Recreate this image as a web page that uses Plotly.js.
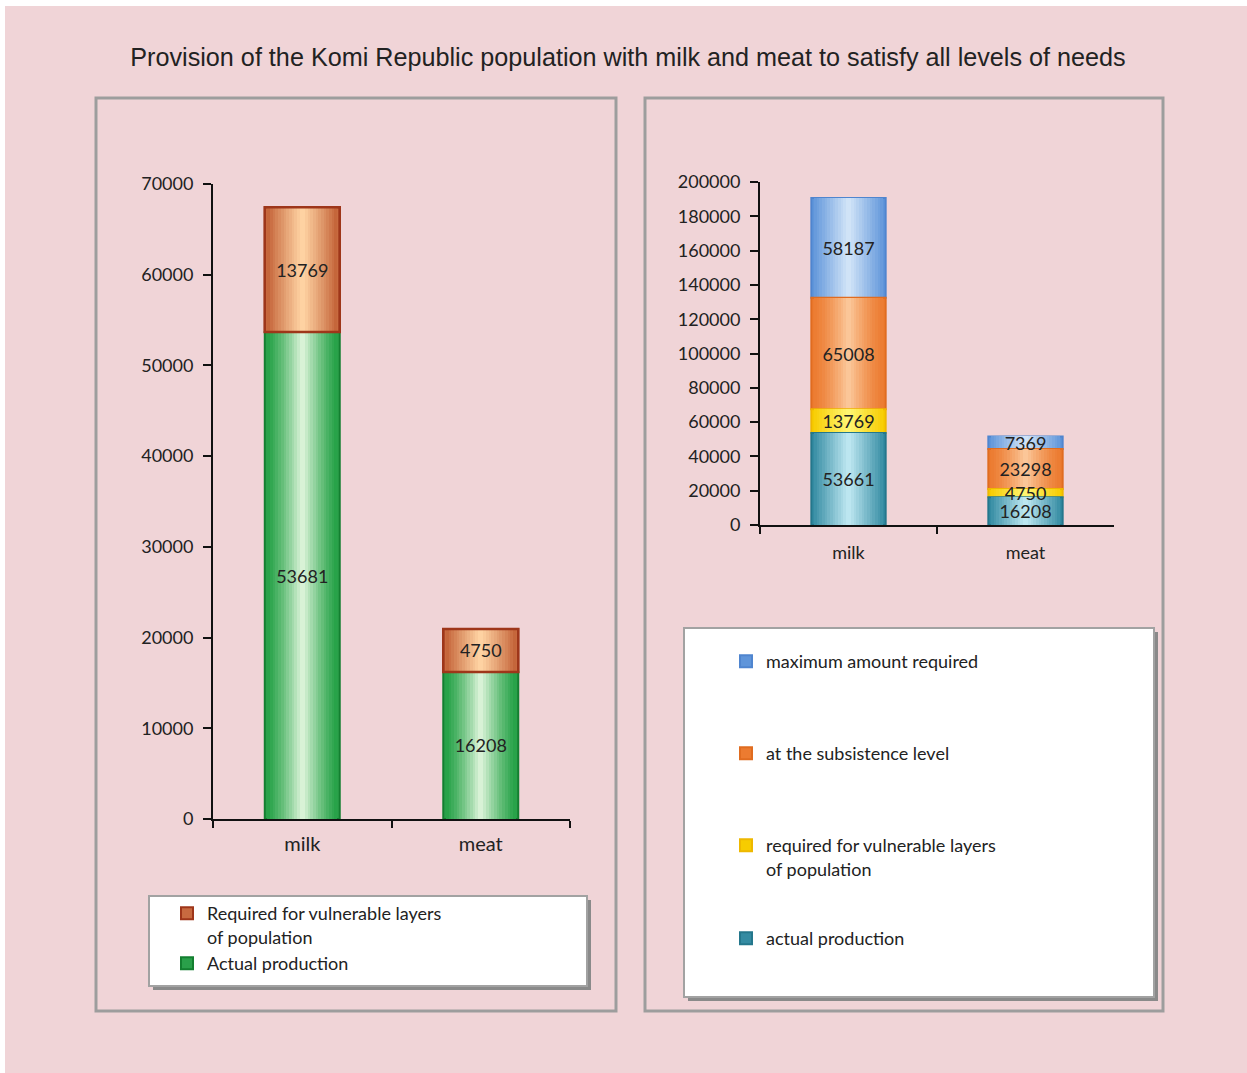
<!DOCTYPE html>
<html><head><meta charset="utf-8">
<script src="https://cdn.plot.ly/plotly-3.0.1.min.js"></script>
<style>html,body{margin:0;padding:0;background:#fff;}</style>
</head><body><div id="chart" style="width:1247px;height:1073px;"></div>
<script>
// ---------- data ----------
const categories = ['milk', 'meat'];
// left chart
const leftActual = [53681, 16208];
const leftVulnerable = [13769, 4750];
const leftNames = ['Required for vulnerable layers<br>of population', 'Actual production'];
const leftTickVals = [0, 10000, 20000, 30000, 40000, 50000, 60000, 70000];
// right chart
const rightActual = [53661, 16208];
const rightVulnerable = [13769, 4750];
const rightSubsistence = [65008, 23298];
const rightMaximum = [58187, 7369];
const rightNames = ['maximum amount required', 'at the subsistence level',
  'required for vulnerable layers<br>of population', 'actual production'];
const rightTickVals = [0, 20000, 40000, 60000, 80000, 100000, 120000, 140000, 160000, 180000, 200000];
const titleText = 'Provision of the Komi Republic population with milk and meat to satisfy all levels of needs';

// ---------- helpers ----------
const W = 1247, H = 1073;
const px = v => v / W;
const py = v => 1 - v / H;
function hex2rgb(h) { h = h.replace('#', ''); return [0, 2, 4].map(i => parseInt(h.substr(i, 2), 16)); }
function mix(a, b, t) { const A = hex2rgb(a), B = hex2rgb(b); return 'rgb(' + A.map((v, i) => Math.round(v + (B[i] - v) * t)).join(',') + ')'; }
function addSum(a, b) { return a.map((v, i) => v + b[i]); }

const FONT = 'Lato, "Open Sans", sans-serif';
const traces = [];
const labelTraces = [];
function gradientBars(o) {
  const N = 14;
  for (let i = 0; i < N; i++) {
    const f = 1 - i / N;
    const t = Math.pow(i / (N - 1), o.pow || 1.3);
    traces.push({
      type: 'bar', x: categories, y: o.y, base: o.base,
      xaxis: o.xaxis, yaxis: o.yaxis,
      width: o.width * f,
      marker: { color: i === 0 ? o.legendColor : mix(o.mid, o.center, t),
        line: { width: i === 0 ? 2 : 0, color: o.edge } },
      hoverinfo: 'skip',
      showlegend: i === 0, name: o.name, legend: o.legend,
    });
  }
  // value labels (and optional segment outline) drawn on top of every bar
  labelTraces.push({
    type: 'bar', x: categories, y: o.y, base: o.base,
    xaxis: o.xaxis, yaxis: o.yaxis, width: o.width,
    marker: { color: 'rgba(0,0,0,0)', line: { width: o.outline ? 2.5 : 0, color: o.edge } },
    text: o.y.map(String), textposition: 'inside', insidetextanchor: 'middle',
    textangle: 0, constraintext: 'none',
    textfont: { family: FONT, size: 18, color: '#222' },
    hoverinfo: 'skip', showlegend: false,
  });
}

// left chart
gradientBars({ y: leftVulnerable, base: leftActual, xaxis: 'x', yaxis: 'y', width: 0.42, outline: true,
  edge: '#9e361a', mid: '#bf5a30', center: '#fed2a2', legendColor: '#c86a40', name: leftNames[0], legend: 'legend', pow: 0.9 });
gradientBars({ y: leftActual, base: leftActual.map(() => 0), xaxis: 'x', yaxis: 'y', width: 0.42,
  edge: '#137f30', mid: '#22a044', center: '#d8f2d6', legendColor: '#2aa04a', name: leftNames[1], legend: 'legend2', pow: 1.3 });
// right chart
gradientBars({ y: rightMaximum, base: addSum(addSum(rightActual, rightVulnerable), rightSubsistence), xaxis: 'x2', yaxis: 'y2', width: 0.42,
  edge: '#4f85cf', mid: '#5f95da', center: '#d0e3f7', legendColor: '#5f95da', name: rightNames[0], legend: 'legend3', pow: 1.0 });
gradientBars({ y: rightSubsistence, base: addSum(rightActual, rightVulnerable), xaxis: 'x2', yaxis: 'y2', width: 0.42,
  edge: '#e06c20', mid: '#ec7b30', center: '#fbc698', legendColor: '#ec7b30', name: rightNames[1], legend: 'legend4', pow: 1.4 });
gradientBars({ y: rightVulnerable, base: rightActual, xaxis: 'x2', yaxis: 'y2', width: 0.42,
  edge: '#eeb800', mid: '#f7cc00', center: '#fff470', legendColor: '#f7cc00', name: rightNames[2], legend: 'legend5', pow: 1.0 });
gradientBars({ y: rightActual, base: rightActual.map(() => 0), xaxis: 'x2', yaxis: 'y2', width: 0.42,
  edge: '#24778c', mid: '#348ba2', center: '#bce6f0', legendColor: '#348ba2', name: rightNames[3], legend: 'legend6', pow: 1.0 });

function yAxis(domain, range, vals) {
  return { domain: domain, range: range, tickvals: vals, ticktext: vals.map(String),
    showline: true, linecolor: '#111', linewidth: 2, ticks: 'outside', ticklen: 8, tickwidth: 2, tickcolor: '#111',
    showgrid: false, zeroline: false, tickfont: { family: FONT, size: 18, color: '#222' }, ticklabelstandoff: 6, fixedrange: true };
}
function xAxis(domain, size, standoff) {
  return { domain: domain, type: 'category', range: [-0.5, 1.5],
    showline: true, linecolor: '#111', linewidth: 2, ticks: 'outside', tickson: 'boundaries', ticklen: 7, tickwidth: 2, tickcolor: '#111',
    showgrid: false, zeroline: false, tickfont: { family: FONT, size: size, color: '#222' }, ticklabelstandoff: standoff, fixedrange: true };
}
function legendCfg(x, y) {
  return { x: px(x), y: py(y), xanchor: 'left', yanchor: 'top', xref: 'paper', yref: 'paper',
    bgcolor: 'rgba(0,0,0,0)', borderwidth: 0, valign: 'top',
    font: { family: FONT, size: 18, color: '#222' }, itemclick: false, itemdoubleclick: false };
}
function rect(x0, y0, x1, y1, fill, lineColor, lw) {
  return { type: 'rect', xref: 'paper', yref: 'paper', layer: 'below',
    x0: px(x0), x1: px(x1), y0: py(y1), y1: py(y0),
    fillcolor: fill, line: { color: lineColor || 'rgba(0,0,0,0)', width: lw || 0 } };
}

const layout = {
  width: W, height: H, margin: { l: 0, r: 0, t: 0, b: 0 },
  paper_bgcolor: '#ffffff', plot_bgcolor: 'rgba(0,0,0,0)',
  barmode: 'overlay', bargap: 0,
  title: { text: titleText, x: px(628), xanchor: 'center', y: py(57), yanchor: 'middle', yref: 'paper', xref: 'paper',
    font: { family: '"Liberation Sans", Arial, sans-serif', size: 25.2, color: '#222' } },
  xaxis: Object.assign(xAxis([px(213), px(570)], 20, 6), { anchor: 'y' }),
  yaxis: Object.assign(yAxis([py(819), py(184)], [0, 70000], leftTickVals), { anchor: 'x' }),
  xaxis2: Object.assign(xAxis([px(760), px(1114)], 18, 10), { anchor: 'y2' }),
  yaxis2: Object.assign(yAxis([py(525), py(182)], [0, 200000], rightTickVals), { anchor: 'x2' }),
  legend: legendCfg(167, 895),
  legend2: legendCfg(167, 945),
  legend3: legendCfg(726, 643),
  legend4: legendCfg(726, 735),
  legend5: legendCfg(726, 827),
  legend6: legendCfg(726, 920),
  shapes: [
    rect(5, 6, 1247, 1073, '#f0d4d7'),
    rect(96, 98, 616, 1011, 'rgba(0,0,0,0)', '#9d9d9d', 3),
    rect(645, 98, 1163, 1011, 'rgba(0,0,0,0)', '#9d9d9d', 3),
    rect(153, 900, 591, 990, '#8a8a8a'),
    rect(149, 896, 587, 986, '#ffffff', '#a2a2a2', 2),
    rect(688, 632, 1158, 1001, '#8a8a8a'),
    rect(684, 628, 1154, 997, '#ffffff', '#a2a2a2', 2),
  ],
};

Plotly.newPlot('chart', traces.concat(labelTraces), layout, { displayModeBar: false, staticPlot: true });
</script></body></html>
